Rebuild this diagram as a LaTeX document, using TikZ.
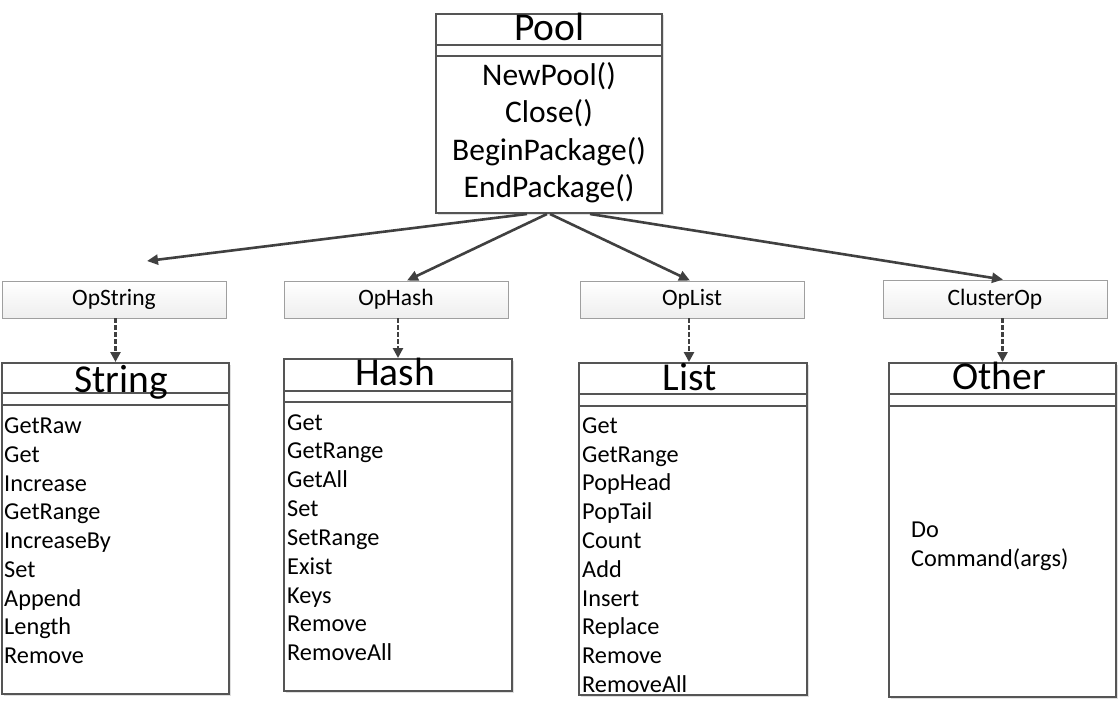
\documentclass[tikz,border=0pt]{standalone}
\usepackage{fontspec}
\setmainfont{Carlito}
\usetikzlibrary{arrows.meta,shadows}
\definecolor{ln}{HTML}{404040}
\definecolor{bx}{HTML}{555555}
\tikzset{
  clsbox/.style={draw=bx, line width=2pt, fill=white, rectangle, inner sep=0pt,
    drop shadow={opacity=0.25, shadow xshift=1.5pt, shadow yshift=-1.5pt}},
  opbox/.style={draw=gray!75, line width=0.9pt, top color=white, bottom color=gray!13, rectangle, inner sep=0pt,
    drop shadow={opacity=0.2, shadow xshift=1.2pt, shadow yshift=-1.2pt}},
  sepline/.style={draw=bx, line width=2pt},
  titletext/.style={inner sep=0pt, anchor=base, font=\fontsize{39.5}{47}\selectfont},
  pooltext/.style={inner sep=0pt, anchor=base, font=\fontsize{31.5}{38}\selectfont},
  item/.style={inner sep=0pt, anchor=base west, font=\fontsize{24.3}{29}\selectfont},
  oplabel/.style={inner sep=0pt, anchor=base, font=\fontsize{23.5}{28}\selectfont},
  solidarr/.style={draw=ln, line width=2.6pt, -{Triangle[length=11pt,width=10pt]}},
  dasharr/.style={draw=ln, line width=2.8pt, dash pattern=on 4.5pt off 2.5pt, -{Triangle[length=10pt,width=10pt]}}
}
\begin{document}
\begin{tikzpicture}[x=1pt,y=-1pt]
\useasboundingbox[fill=white] (0,0) rectangle (1120,701);

% Pool
\node[clsbox, minimum width=226pt, minimum height=199pt] (pool) at (549,113.5) {};
\draw[sepline] (pool.west |- 0,45) -- (pool.east |- 0,45);
\draw[sepline] (pool.west |- 0,56) -- (pool.east |- 0,56);
\node[titletext] (pooltitle) at (549.5,41) {Pool};
\node[pooltext] (pm1) at (549,85) {NewPool()};
\node[pooltext] (pm2) at (549,122.5) {Close()};
\node[pooltext] (pm3) at (549,160) {BeginPackage()};
\node[pooltext] (pm4) at (549,197.5) {EndPackage()};

% Op boxes
\node[opbox, minimum width=224pt, minimum height=37pt] (opS) at (114,299.5) {};
\node[oplabel] (opSl) at (114,305) {OpString};
\node[opbox, minimum width=224pt, minimum height=37pt] (opH) at (396,299.5) {};
\node[oplabel] (opHl) at (396,305) {OpHash};
\node[opbox, minimum width=224pt, minimum height=37pt] (opL) at (692,299.5) {};
\node[oplabel] (opLl) at (692,305) {OpList};
\node[opbox, minimum width=224pt, minimum height=38pt] (opC) at (995,299) {};
\node[oplabel] (opCl) at (995,305) {ClusterOp};

% String
\node[clsbox, minimum width=227pt, minimum height=331pt] (str) at (115.5,528.5) {};
\draw[sepline] (str.west |- 0,393) -- (str.east |- 0,393);
\draw[sepline] (str.west |- 0,405) -- (str.east |- 0,405);
\node[titletext] (strt) at (121,392) {String};
\foreach \t [count=\i from 0] in {GetRaw,Get,Increase,GetRange,IncreaseBy,Set,Append,Length,Remove}
  \node[item] (s\i) at (4,{433.6+28.75*\i}) {\t};

% Hash
\node[clsbox, minimum width=228pt, minimum height=332pt] (hash) at (398,525) {};
\draw[sepline] (hash.west |- 0,391) -- (hash.east |- 0,391);
\draw[sepline] (hash.west |- 0,402) -- (hash.east |- 0,402);
\node[titletext] (hasht) at (395,385) {Hash};
\foreach \t [count=\i from 0] in {Get,GetRange,GetAll,Set,SetRange,Exist,Keys,Remove,RemoveAll}
  \node[item] (h\i) at (287,{430+28.85*\i}) {\t};

% List
\node[clsbox, minimum width=228pt, minimum height=332pt] (list) at (693,529) {};
\draw[sepline] (list.west |- 0,394) -- (list.east |- 0,394);
\draw[sepline] (list.west |- 0,406) -- (list.east |- 0,406);
\node[titletext] (listt) at (689.5,390) {List};
\foreach \t [count=\i from 0] in {Get,GetRange,PopHead,PopTail,Count,Add,Insert,Replace,Remove,RemoveAll}
  \node[item] (l\i) at (582,{433.3+28.8*\i}) {\t};

% Other
\node[clsbox, minimum width=227pt, minimum height=334pt] (oth) at (1002.5,530) {};
\draw[sepline] (oth.west |- 0,394) -- (oth.east |- 0,394);
\draw[sepline] (oth.west |- 0,406) -- (oth.east |- 0,406);
\node[titletext] (otht) at (999,389) {Other};
\node[item] (o0) at (911,537) {Do};
\node[item] (o1) at (911,566) {Command(args)};

% Solid arrows
\coordinate (tipS) at (147,261);
\draw[solidarr] (pool.south -| 527,0) -- (tipS);
\draw[solidarr] (pool.south -| 547,0) -- (opH.north -| 407,0);
\draw[solidarr] (pool.south -| 550,0) -- (opL.north -| 690,0);
\draw[solidarr] (pool.south -| 590,0) -- (opC.north -| 1003,0);

% Dashed arrows
\draw[dasharr] (opS.south -| str.north) -- (str.north);
\draw[dasharr] (opH.south -| hash.north) -- (hash.north);
\draw[dasharr] (opL.south -| 689,0) -- (list.north -| 689,0);
\draw[dasharr] (opC.south -| oth.north) -- (oth.north);
\end{tikzpicture}
\end{document}
